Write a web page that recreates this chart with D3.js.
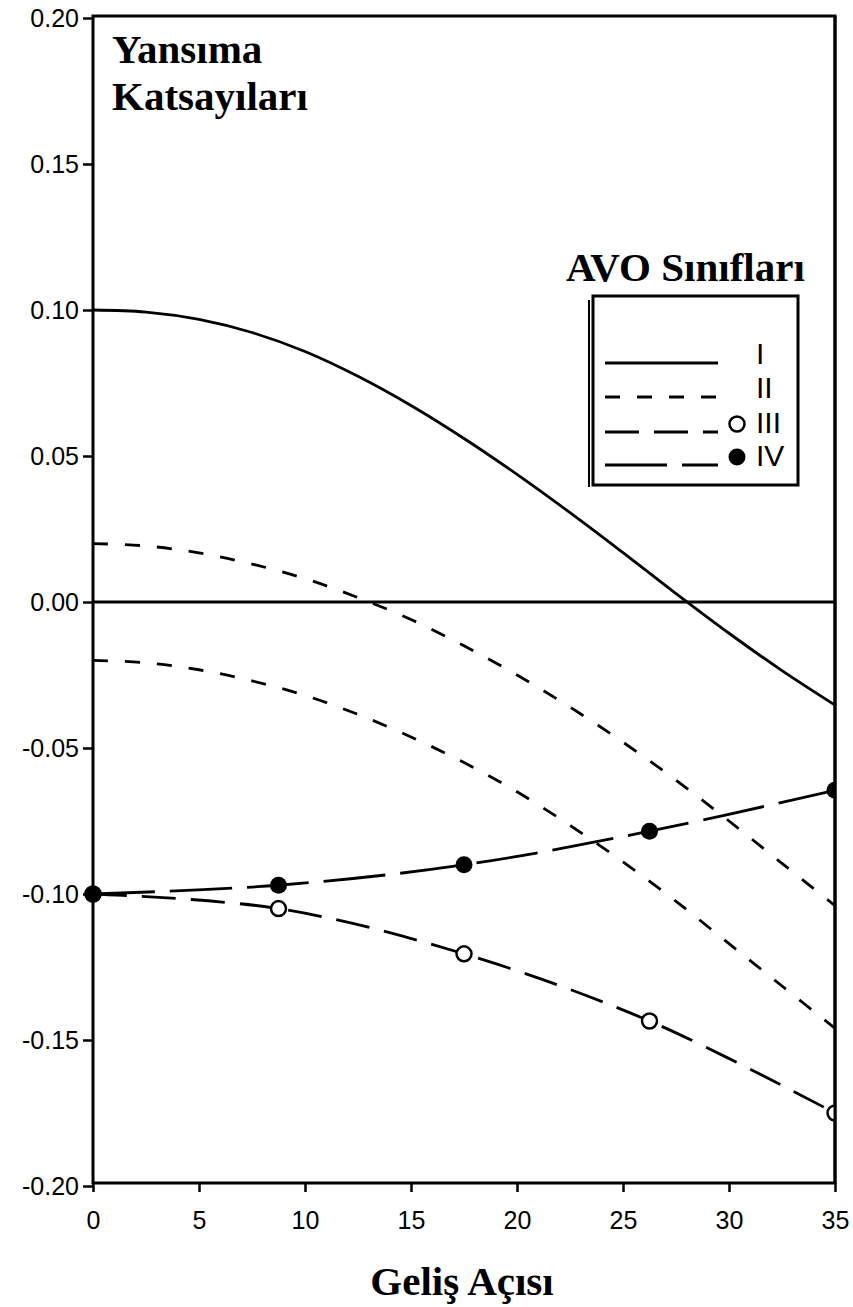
<!DOCTYPE html>
<html>
<head>
<meta charset="utf-8">
<script src="https://cdn.jsdelivr.net/npm/d3@7"></script>
<style>
  html, body { margin: 0; padding: 0; background: #fff; }
  svg { display: block; }
</style>
</head>
<body>
<script>
// Reflection coefficient vs. incidence angle for the four AVO classes.
const angles = [0, 2.5, 5, 7.5, 10, 12.5, 15, 17.5, 20, 22.5, 25, 27.5, 30, 32.5, 35];
const classI = [0.100, 0.0993, 0.0968, 0.0923, 0.0858, 0.0773, 0.0673, 0.056, 0.0437, 0.0306, 0.0169, 0.0029, -0.0107, -0.0235, -0.0353];
const classIIa = [0.020, 0.0192, 0.0168, 0.013, 0.008, 0.0015, -0.006, -0.015, -0.025, -0.036, -0.048, -0.061, -0.075, -0.0895, -0.104];
const classIIb = [-0.020, -0.0208, -0.0232, -0.027, -0.032, -0.0385, -0.0462, -0.055, -0.065, -0.0765, -0.089, -0.1025, -0.117, -0.1315, -0.146];
const markerAngles = [0, 8.75, 17.5, 26.25, 35];
const classIII = [-0.100, -0.105, -0.1205, -0.1435, -0.175];
const classIV = [-0.100, -0.097, -0.090, -0.0785, -0.0645];

const xTicks = [0, 5, 10, 15, 20, 25, 30, 35];
const yTicks = [0.20, 0.15, 0.10, 0.05, 0.00, -0.05, -0.10, -0.15, -0.20];
const yTickLabels = ["0.20", "0.15", "0.10", "0.05", "0.00", "-0.05", "-0.10", "-0.15", "-0.20"];

const legendNames = ["I", "II", "III", "IV"];

const W = 853, H = 1307;
const L = 93, R = 835, T = 18, B = 1186;

const svg = d3.select("body").append("svg")
  .attr("width", W).attr("height", H);

const x = d3.scaleLinear().domain([0, 35]).range([L, R]);
const y = d3.scaleLinear().domain([-0.2, 0.2]).range([B, T]);

const ink = "#000";
const serif = "'Liberation Serif', 'Times New Roman', serif";
const sans = "'Liberation Sans', Arial, Helvetica, sans-serif";

// clip at the right border only
svg.append("defs").append("clipPath").attr("id", "plotclip")
  .append("rect").attr("x", L - 20).attr("y", T - 20)
  .attr("width", R - L + 20).attr("height", B - T + 40);

// axes
const yAxis = d3.axisLeft(y).tickValues(yTicks)
  .tickFormat((d, i) => yTickLabels[i]).tickSize(10).tickSizeOuter(0).tickPadding(4);
const gy = svg.append("g").attr("transform", `translate(${L},0)`).call(yAxis);
gy.select(".domain").remove();
gy.selectAll(".tick line").attr("stroke", ink).attr("stroke-width", 2.5);
gy.selectAll(".tick text").attr("font-family", sans).attr("font-size", 25).attr("fill", ink);

const xAxis = d3.axisBottom(x).tickValues(xTicks).tickSize(9).tickSizeOuter(0).tickPadding(19);
const gx = svg.append("g").attr("transform", `translate(0,${B - 3})`).call(xAxis);
gx.select(".domain").remove();
gx.selectAll(".tick line").attr("stroke", ink).attr("stroke-width", 2.5);
gx.selectAll(".tick text").attr("font-family", sans).attr("font-size", 25).attr("fill", ink);

// frame
svg.append("rect")
  .attr("x", L).attr("y", T - 2)
  .attr("width", R - L).attr("height", (B - 3) - (T - 2))
  .attr("fill", "none").attr("stroke", ink).attr("stroke-width", 3);

// zero line
svg.append("line")
  .attr("x1", x(0)).attr("x2", x(35)).attr("y1", y(0)).attr("y2", y(0))
  .attr("stroke", ink).attr("stroke-width", 3);

const plot = svg.append("g").attr("clip-path", "url(#plotclip)");

const line = d3.line().x(d => x(d[0])).y(d => y(d[1])).curve(d3.curveCatmullRom);
const zipA = vals => angles.map((a, i) => [a, vals[i]]);
const zipM = vals => markerAngles.map((a, i) => [a, vals[i]]);

const styles = {
  I: "none",
  II: "15,17",
  III: "34,15",
  IV: "62,15"
};

plot.append("path").datum(zipA(classI)).attr("d", line)
  .attr("fill", "none").attr("stroke", ink).attr("stroke-width", 2.8);
plot.append("path").datum(zipA(classIIa)).attr("d", line)
  .attr("fill", "none").attr("stroke", ink).attr("stroke-width", 2.8)
  .attr("stroke-dasharray", styles.II);
plot.append("path").datum(zipA(classIIb)).attr("d", line)
  .attr("fill", "none").attr("stroke", ink).attr("stroke-width", 2.8)
  .attr("stroke-dasharray", styles.II);
plot.append("path").datum(zipM(classIII)).attr("d", line)
  .attr("fill", "none").attr("stroke", ink).attr("stroke-width", 2.8)
  .attr("stroke-dasharray", styles.III);
plot.append("path").datum(zipM(classIV)).attr("d", line)
  .attr("fill", "none").attr("stroke", ink).attr("stroke-width", 2.8)
  .attr("stroke-dasharray", styles.IV);

// markers
plot.selectAll("circle.c3").data(zipM(classIII)).join("circle")
  .attr("class", "c3")
  .attr("cx", d => x(d[0])).attr("cy", d => y(d[1])).attr("r", 7.5)
  .attr("fill", "#fff").attr("stroke", ink).attr("stroke-width", 2.5);
plot.selectAll("circle.c4").data(zipM(classIV)).join("circle")
  .attr("class", "c4")
  .attr("cx", d => x(d[0])).attr("cy", d => y(d[1])).attr("r", 8.5)
  .attr("fill", ink);

// right border drawn over clipped markers
svg.append("line").attr("x1", R).attr("x2", R).attr("y1", T - 2).attr("y2", B - 3)
  .attr("stroke", ink).attr("stroke-width", 3);

// titles
const title = svg.append("text").attr("x", 112).attr("font-family", serif)
  .attr("font-weight", "bold").attr("font-size", 41).attr("fill", ink);
title.append("tspan").attr("x", 112).attr("y", 63).text("Yansıma");
title.append("tspan").attr("x", 112).attr("y", 110).text("Katsayıları");

svg.append("text").attr("x", 462).attr("y", 1295)
  .attr("text-anchor", "middle").attr("font-family", serif)
  .attr("font-weight", "bold").attr("font-size", 41).attr("fill", ink)
  .text("Geliş Açısı");

// legend
svg.append("text").attr("x", 566).attr("y", 281).attr("font-family", serif)
  .attr("font-weight", "bold").attr("font-size", 41).attr("fill", ink)
  .text("AVO Sınıfları");

const lg = svg.append("g");
lg.append("rect").attr("x", 593).attr("y", 296).attr("width", 205).attr("height", 189)
  .attr("fill", "#fff").attr("stroke", ink).attr("stroke-width", 3);
lg.append("line").attr("x1", 589).attr("x2", 589).attr("y1", 300).attr("y2", 487)
  .attr("stroke", ink).attr("stroke-width", 2);

const rowY = [363, 397, 432, 465];
const rowKeys = ["I", "II", "III", "IV"];
rowKeys.forEach((k, i) => {
  lg.append("line").attr("x1", 605).attr("x2", 718)
    .attr("y1", rowY[i]).attr("y2", rowY[i])
    .attr("stroke", ink).attr("stroke-width", 2.8)
    .attr("stroke-dasharray", styles[k]);
  lg.append("text").attr("x", 756).attr("y", rowY[i] + 1)
    .attr("font-family", sans).attr("font-size", 30).attr("fill", ink)
    .text(legendNames[i]);
});
lg.append("circle").attr("cx", 737).attr("cy", 424).attr("r", 7.5)
  .attr("fill", "#fff").attr("stroke", ink).attr("stroke-width", 2.5);
lg.append("circle").attr("cx", 737).attr("cy", 457).attr("r", 8.5)
  .attr("fill", ink);
</script>
</body>
</html>
